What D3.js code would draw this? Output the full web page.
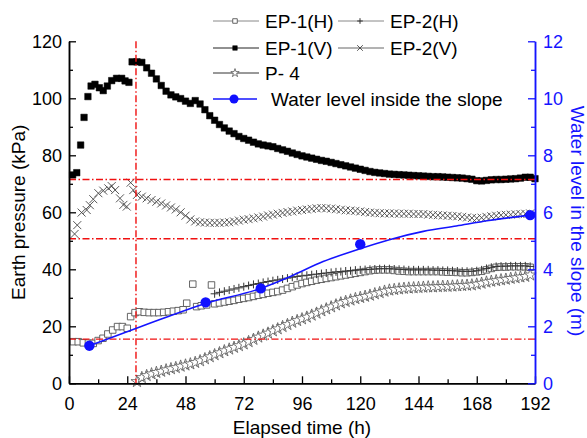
<!DOCTYPE html>
<html>
<head>
<meta charset="utf-8">
<script src="https://cdn.jsdelivr.net/npm/d3@7"></script>
<style>
  body { margin: 0; background: #fff; }
  svg { display: block; font-family: "Liberation Sans", Arial, sans-serif; }
</style>
</head>
<body>
<svg width="587" height="438"></svg>
<script>
// EP-1(H) earth pressure (kPa), [time h, value]
var ep1H = [[1.8,14.6],[3.8,14.6],[5.9,14.2],[8,14.1],[10,14],[12,15],[14,15.8],[16,17.3],[18,18.7],[20,19.9],[22,19.9],[24,19.3],
  [25.4,23.4],[27.2,24.8],[29,25.1],[31,24.9],[33,24.8],[35,24.8],[37,24.8],[39,24.9],[41,25.1],[43,25.3],[45,25.5],[47,25.8],
  [48.5,28.1],[51,34.8],[52.6,26.9],[54.5,27.2],[56.7,27.5],[58.7,34.5],[60,27.9],[62,28.2],[64,28.5],[66,28.8],[68,29.1],
  [70,29.5],[72,29.8],[74,30.1],[76,30.5],[78,30.9],[80,31.2],[82,31.6],[84,31.9],[86,32.2],[88,32.7],[90,33.3],[92,33.9],
  [94,34.5],[96,35],[98,35.4],[100,35.8],[102,36.2],[104,36.5],[106,36.8],[108,37.1],[110,37.4],[112,37.7],[114,38],[116,38.3],
  [118,38.6],[120,38.9],[122,39.2],[124,39.5],[126,39.7],[128,39.8],[130,39.8],[132,39.8],[134,39.6],[136,39.4],[138,39.3],
  [140,39.2],[142,39.2],[144,39.2],[146,39.2],[148,39.2],[150,39.2],[152,39.2],[154,39.1],[156,39],[158,39],[160,38.9],
  [162,38.8],[164,38.8],[166,38.9],[168,39.1],[170,39.3],[172,39.8],[174,40.3],[176,40.7],[178,40.8],[180,40.8],[182,40.9],
  [184,40.9],[186,40.9],[188,40.9],[190,40.7]];

// EP-2(H)
var ep2H = [[60,31.4],[62,31.9],[64,32.3],[66,32.7],[68,33.1],[70,33.5],[72,33.9],[74,34.3],[76,34.7],[78,35],[80,35.4],
  [82,35.7],[84,36],[86,36.3],[88,36.6],[90,36.9],[92,37.2],[94,37.5],[96,37.7],[98,37.9],[100,38.1],[102,38.3],[104,38.5],
  [106,38.7],[108,38.9],[110,39.1],[112,39.2],[114,39.4],[116,39.5],[118,39.7],[120,39.8],[122,39.9],[124,40],[126,40.1],
  [128,40.2],[130,40.2],[132,40.2],[134,40.1],[136,40],[138,39.9],[140,39.8],[142,39.8],[144,39.8],[146,39.8],[148,39.8],
  [150,39.7],[152,39.7],[154,39.6],[156,39.6],[158,39.5],[160,39.4],[162,39.3],[164,39.3],[166,39.3],[168,39.5],[170,39.8],
  [172,40.3],[174,40.7],[176,41],[178,41.1],[180,41.1],[182,41.2],[184,41.2],[186,41.2],[188,41.2],[190,41]];

// EP-1(V)
var ep1V = [[1.5,73.1],[3.2,73.9],[4.8,83.6],[6.2,93.3],[7.8,100.6],[9.1,104.3],[10.7,104.9],[12.5,103.7],[14.1,102.7],
  [15.8,104.3],[17.6,106.2],[19.6,107],[21.7,107],[23.1,106.1],[24.7,105.6],[26,112.8],[28,112.8],[30,112.6],[32,110.7],
  [34,108.8],[36,106.8],[38,104.5],[40,102.5],[42,101.2],[44,100.5],[46,99.9],[48,99],[50,98.2],[52,99.2],[54,98],[56,96],
  [58,93.9],[60,92.3],[62,90.8],[64,89.6],[66,88.5],[68,87.6],[70,86.6],[72,85.9],[74,85.3],[76,84.6],[78,84],[80,83.6],
  [82,83.3],[84,83],[86,82.4],[88,81.9],[90,81.4],[92,80.8],[94,80.3],[96,79.8],[98,79.4],[100,79],[102,78.6],[104,78.2],
  [106,77.9],[108,77.5],[110,77.1],[112,76.7],[114,76.3],[116,75.9],[118,75.5],[120,75.1],[122,74.7],[124,74.3],[126,74],
  [128,73.8],[130,73.6],[132,73.4],[134,73.3],[136,73.2],[138,73.1],[140,73],[142,72.9],[144,72.8],[146,72.7],[148,72.6],
  [150,72.5],[152,72.5],[154,72.4],[156,72.3],[158,72.2],[160,72.1],[162,72],[164,71.8],[166,71.6],[168,71.1],[170,71],
  [172,71.2],[174,71.4],[176,71.5],[178,71.5],[180,71.6],[182,71.7],[184,71.8],[186,72],[188,72.3],[190,72.3],[192,71.8]];

// EP-2(V)
var ep2V = [[2.3,52.4],[3.4,55.5],[5.2,59.9],[7.3,60.8],[8.6,62.5],[10,64.6],[12.1,66.7],[14.1,67.6],[16.2,68.4],[17.6,69.2],
  [19,67.8],[21,64.9],[22.4,62.6],[23.8,62],[25.4,70.4],[26.5,67.8],[28,66.1],[30,65.5],[32,64.9],[34,64.3],[36,63.7],
  [38,63.1],[40,62.4],[42,61.7],[44,61],[46,60],[48,58.8],[50,57.5],[52,56.8],[54,56.5],[56,56.4],[58,56.3],[60,56.3],
  [62,56.3],[64,56.4],[66,56.5],[68,56.8],[70,57.1],[72,57.4],[74,57.6],[76,57.9],[78,58.2],[80,58.5],[82,58.9],[84,59.2],
  [86,59.5],[88,59.8],[90,60.1],[92,60.3],[94,60.6],[96,60.8],[98,61],[100,61.2],[102,61.4],[104,61.5],[106,61.4],[108,61.3],
  [110,61.1],[112,60.9],[114,60.7],[116,60.6],[118,60.5],[120,60.3],[122,60.1],[124,59.9],[126,59.8],[128,59.7],[130,59.6],
  [132,59.6],[134,59.6],[136,59.5],[138,59.5],[140,59.5],[142,59.4],[144,59.4],[146,59.4],[148,59.2],[150,59.1],[152,59],
  [154,58.9],[156,58.8],[158,58.7],[160,58.6],[162,58.4],[164,58.2],[166,58],[168,57.9],[170,58.1],[172,58.4],[174,58.6],
  [176,58.8],[178,59],[180,59.1],[182,59.2],[184,59.3],[186,59.4],[188,59.5],[190,59.6]];

// P-4
var p4 = [[28,0.6],[30,2],[32,2.7],[34,3.3],[36,3.8],[38,4.2],[40,4.7],[42,5.1],[44,5.5],[46,6],[48,6.4],[50,6.8],[52,7.3],
  [54,7.9],[56,8.6],[58,9.3],[60,10],[62,10.7],[64,11.4],[66,12],[68,12.6],[70,13.2],[72,13.8],[74,14.6],[76,15.4],[78,16.2],
  [80,16.9],[82,17.6],[84,18.4],[86,19.1],[88,19.9],[90,20.6],[92,21.4],[94,22],[96,22.6],[98,23.2],[100,23.9],[102,24.6],
  [104,25.4],[106,26.1],[108,26.8],[110,27.5],[112,28.2],[114,28.7],[116,29.2],[118,29.7],[120,30.1],[122,30.5],[124,30.9],
  [126,31.4],[128,31.8],[130,32.3],[132,32.7],[134,32.9],[136,33.1],[138,33.3],[140,33.4],[142,33.5],[144,33.6],[146,33.7],
  [148,33.8],[150,33.8],[152,33.9],[154,34],[156,34],[158,34.1],[160,34.2],[162,34.3],[164,34.4],[166,34.5],[168,34.8],
  [170,35.1],[172,35.5],[174,35.8],[176,36],[178,36.3],[180,36.5],[182,36.8],[184,37],[186,37.3],[188,37.5],[190,38]];

// water level inside the slope (m): measured points and the trend line
var waterPts = [[8.4,1.32],[56.3,2.84],[79,3.33],[120,4.88],[190,5.9]];
var waterLine = [[8.4,1.32],[30,2.0],[56.3,2.8],[79,3.33],[91,3.74],[104.7,4.27],[118.4,4.68],[132,5.04],[146,5.33],
  [159.6,5.52],[173,5.71],[190,5.9]];

// red dash-dot reference lines
var refPressures = [71.5, 50.7, 15.5];
var refTime = 27.6;

var xTicks = [0, 24, 48, 72, 96, 120, 144, 168, 192];
var yLeftTicks = [0, 20, 40, 60, 80, 100, 120];
var yRightTicks = [0, 2, 4, 6, 8, 10, 12];

var svg = d3.select("svg");
var pLeft = 69, pRight = 535, pTop = 41.3, pBottom = 383.3;

var x = d3.scaleLinear().domain([0, 192]).range([pLeft, pRight]);
var yL = d3.scaleLinear().domain([0, 120]).range([pBottom, pTop]);
var yR = d3.scaleLinear().domain([0, 12]).range([pBottom, pTop]);

// marker paths
function marker(type, s) {
	var h = s / 2;
	if (type == "square") return "M" + (-h) + "," + (-h) + "h" + s + "v" + s + "h" + (-s) + "Z";
	if (type == "plus") return "M" + (-h) + ",0H" + h + "M0," + (-h) + "V" + h;
	if (type == "times") return "M" + (-h) + "," + (-h) + "L" + h + "," + h + "M" + (-h) + "," + h + "L" + h + "," + (-h);
	if (type == "star") return d3.symbol().type(d3.symbolStar).size(s * s * 0.55)();
}

var series = [
	{name: "EP-1(H)", data: ep1H, type: "square", size: 6.5, fill: "#fff", stroke: "#555", sw: 0.9, line: "#888"},
	{name: "EP-2(H)", data: ep2H, type: "plus", size: 8, fill: "none", stroke: "#333", sw: 1, line: "#888"},
	{name: "EP-1(V)", data: ep1V, type: "square", size: 6.5, fill: "#000", stroke: "#000", sw: 0.5, line: "#222"},
	{name: "EP-2(V)", data: ep2V, type: "times", size: 8, fill: "none", stroke: "#444", sw: 0.9, line: "#666"},
	{name: "P- 4", data: p4, type: "star", size: 9, fill: "#fff", stroke: "#555", sw: 0.8, line: "#333"}
];

// markers only in the plot (legend carries the line)
series.forEach(s => {
	svg.append("g")
		.selectAll("path")
		.data(s.data)
		.enter()
		.append("path")
		.attr("transform", d => "translate(" + x(d[0]) + "," + yL(d[1]) + ")")
		.attr("d", marker(s.type, s.size))
		.attr("fill", s.fill)
		.attr("stroke", s.stroke)
		.attr("stroke-width", s.sw);
});

// red reference lines
var dash = "7,2.5,1.5,2.5";
svg.selectAll("line.ref")
	.data(refPressures)
	.enter()
	.append("line")
	.attr("x1", pLeft).attr("x2", pRight)
	.attr("y1", d => yL(d)).attr("y2", d => yL(d))
	.attr("stroke", "#f01010")
	.attr("stroke-width", 1.4)
	.attr("stroke-dasharray", dash);
svg.append("line")
	.attr("x1", x(refTime)).attr("x2", x(refTime))
	.attr("y1", pTop).attr("y2", pBottom)
	.attr("stroke", "#f01010")
	.attr("stroke-width", 1.4)
	.attr("stroke-dasharray", dash);

// water level
svg.append("path")
	.attr("d", d3.line().curve(d3.curveMonotoneX).x(d => x(d[0])).y(d => yR(d[1]))(waterLine))
	.attr("fill", "none")
	.attr("stroke", "#1414ff")
	.attr("stroke-width", 1.6);
svg.selectAll("circle.w")
	.data(waterPts)
	.enter()
	.append("circle")
	.attr("class", "w")
	.attr("cx", d => x(d[0]))
	.attr("cy", d => yR(d[1]))
	.attr("r", 5.2)
	.attr("fill", "#1010ff");

// axes
function styleAxis(g, color) {
	g.selectAll("path.domain").attr("stroke", color).attr("stroke-width", 1.5);
	g.selectAll(".tick line").attr("stroke", color).attr("stroke-width", 1.3);
	g.selectAll(".tick text").attr("fill", color).style("font-size", "18px")
		.style("font-family", "'Liberation Sans', Arial, sans-serif");
}

var xMinor = d3.range(12, 192, 24);
svg.append("g")
	.attr("transform", "translate(0," + pBottom + ")")
	.call(d3.axisBottom(x).tickValues(xMinor).tickFormat("").tickSizeInner(-4).tickSizeOuter(0))
	.call(g => styleAxis(g, "#000"));
svg.append("g")
	.attr("transform", "translate(0," + pBottom + ")")
	.call(d3.axisBottom(x).tickValues(xTicks).tickSizeInner(-7).tickSizeOuter(0).tickPadding(14))
	.call(g => styleAxis(g, "#000"));

svg.append("g")
	.attr("transform", "translate(" + pLeft + ",0)")
	.call(d3.axisLeft(yL).tickValues(d3.range(10, 120, 20)).tickFormat("").tickSizeInner(-4).tickSizeOuter(0))
	.call(g => styleAxis(g, "#000"));
svg.append("g")
	.attr("transform", "translate(" + pLeft + ",0)")
	.call(d3.axisLeft(yL).tickValues(yLeftTicks).tickSizeInner(-7).tickSizeOuter(0).tickPadding(7))
	.call(g => styleAxis(g, "#000"));

svg.append("g")
	.attr("transform", "translate(" + pRight + ",0)")
	.call(d3.axisRight(yR).tickValues(d3.range(1, 12, 2)).tickFormat("").tickSizeInner(-4).tickSizeOuter(0))
	.call(g => styleAxis(g, "#1414ff"));
svg.append("g")
	.attr("transform", "translate(" + pRight + ",0)")
	.call(d3.axisRight(yR).tickValues(yRightTicks).tickSizeInner(-7).tickSizeOuter(0).tickPadding(8))
	.call(g => styleAxis(g, "#1414ff"));

// axis titles
svg.append("text")
	.attr("x", (pLeft + pRight) / 2)
	.attr("y", 434)
	.attr("text-anchor", "middle")
	.style("font-size", "19px")
	.text("Elapsed time (h)");
svg.append("text")
	.attr("transform", "translate(25," + ((pTop + pBottom) / 2) + ") rotate(-90)")
	.attr("text-anchor", "middle")
	.style("font-size", "19px")
	.text("Earth pressure (kPa)");
svg.append("text")
	.attr("transform", "translate(571," + 221 + ") rotate(90)")
	.attr("text-anchor", "middle")
	.attr("fill", "#1414ff")
	.style("font-size", "19px")
	.text("Water level in the slope (m)");

// legend
var legendItems = [
	{s: series[0], x: 213, y: 21},
	{s: series[1], x: 338, y: 21},
	{s: series[2], x: 213, y: 48},
	{s: series[3], x: 338, y: 48},
	{s: series[4], x: 213, y: 73}
];
var lg = svg.append("g").style("font-size", "19px");
legendItems.forEach(it => {
	var s = it.s;
	lg.append("line")
		.attr("x1", it.x).attr("x2", it.x + 46)
		.attr("y1", it.y).attr("y2", it.y)
		.attr("stroke", s.line).attr("stroke-width", 1);
	lg.append("path")
		.attr("transform", "translate(" + (it.x + 22) + "," + it.y + ")")
		.attr("d", marker(s.type, s.size * 0.7))
		.attr("fill", s.fill == "none" ? "none" : (s.fill == "#000" ? "#000" : "#fff"))
		.attr("stroke", s.stroke)
		.attr("stroke-width", s.sw);
	lg.append("text")
		.attr("x", it.x + 52)
		.attr("y", it.y)
		.attr("dy", "0.35em")
		.text(s.name);
});
lg.append("line")
	.attr("x1", 213).attr("x2", 257)
	.attr("y1", 99).attr("y2", 99)
	.attr("stroke", "#1414ff").attr("stroke-width", 1.6);
lg.append("circle")
	.attr("cx", 234).attr("cy", 99).attr("r", 4.5)
	.attr("fill", "#1010ff");
lg.append("text")
	.attr("x", 271).attr("y", 99).attr("dy", "0.35em")
	.text("Water level inside the slope");
</script>
</body>
</html>
